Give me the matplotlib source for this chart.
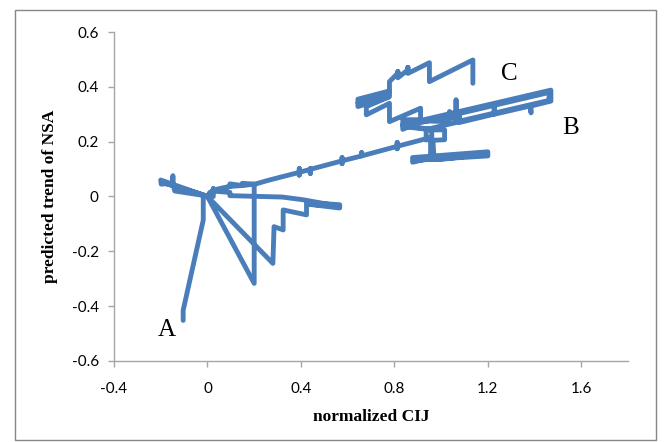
import matplotlib
matplotlib.use('Agg')
import matplotlib.pyplot as plt
from matplotlib.patches import Rectangle

# trajectory (normalized CIJ, predicted trend of NSA)
cij = [-0.104, -0.104, -0.018, -0.018, 0.000,
       -0.200, -0.198, -0.150, -0.148, -0.146, -0.140, -0.003, -0.195, 0.000,
       0.200, 0.200, 0.150, 0.100, 0.010, 0.000,
       0.280, 0.285, 0.324, 0.324, 0.424, 0.424, 0.566, 0.566, 0.430, 0.566,
       0.410, 0.320, 0.096, 0.096, 0.020, 0.000,
       0.025, 0.025, 0.027, 0.096, 0.096, 0.149, 0.149, 0.203, 0.256, 0.310,
       0.393, 0.393, 0.393, 0.393, 0.440, 0.440, 0.440, 0.440,
       0.576, 0.576, 0.576, 0.576, 0.660, 0.660, 0.660,
       0.812, 0.812, 0.812, 0.812, 0.910, 0.955,
       0.955, 0.878, 0.878, 1.200, 1.200, 0.890, 1.195, 1.000, 0.970, 0.965,
       1.015, 1.015, 0.936, 0.936, 0.960,
       0.960, 0.836, 0.836, 1.470, 1.470, 1.385, 1.385, 1.380, 1.228, 1.228,
       1.225, 1.079, 1.079, 1.075, 0.940, 0.840, 1.465, 1.460,
       1.064, 1.064, 1.064, 1.036, 1.036, 0.920,
       0.836, 0.836, 0.912, 0.912, 0.779,
       0.779, 0.680, 0.680, 0.779, 0.644, 0.644, 0.779, 0.779, 0.644, 0.779,
       0.779, 0.815, 0.815, 0.815, 0.858, 0.858, 0.858, 0.950, 0.950, 1.136,
       1.136]
nsa = [-0.452, -0.415, -0.086, 0.000, 0.000,
       0.060, 0.045, 0.048, 0.076, 0.040, 0.020, 0.002, 0.052, 0.000,
       -0.317, 0.045, 0.040, 0.037, 0.015, 0.000,
       -0.244, -0.110, -0.122, -0.049, -0.067, -0.022, -0.030, -0.042, -0.028, -0.036,
       -0.012, -0.002, 0.003, 0.015, 0.020, 0.000,
       0.000, 0.030, 0.024, 0.037, 0.046, 0.040, 0.048, 0.045, 0.058, 0.070,
       0.088, 0.102, 0.078, 0.088, 0.099, 0.084, 0.102, 0.099,
       0.130, 0.142, 0.120, 0.130, 0.148, 0.160, 0.148,
       0.183, 0.197, 0.174, 0.183, 0.205, 0.215,
       0.140, 0.125, 0.142, 0.163, 0.148, 0.132, 0.156, 0.135, 0.135, 0.205,
       0.207, 0.243, 0.243, 0.206, 0.210,
       0.245, 0.258, 0.262, 0.388, 0.348, 0.330, 0.305, 0.330, 0.300, 0.326,
       0.300, 0.270, 0.300, 0.272, 0.245, 0.255, 0.380, 0.350,
       0.272, 0.352, 0.273, 0.310, 0.273, 0.276,
       0.245, 0.280, 0.280, 0.322, 0.273,
       0.340, 0.298, 0.328, 0.364, 0.328, 0.355, 0.385, 0.372, 0.342, 0.383,
       0.419, 0.450, 0.456, 0.433, 0.462, 0.471, 0.449, 0.488, 0.419, 0.498,
       0.413]

point_labels = ['A', 'B', 'C']
label_x = [-0.173, 1.553, 1.292]
label_y = [-0.487, 0.250, 0.447]

plt.rcParams['axes.unicode_minus'] = False

fig = plt.figure(figsize=(6.64, 4.42), dpi=100)
ax = fig.add_axes([0.1717, 0.1833, 0.7741, 0.7443])

ax.plot(cij, nsa, color='#4A7EBB', lw=3.5, solid_joinstyle='round',
        solid_capstyle='round')

for lab, lx, ly in zip(point_labels, label_x, label_y):
    ax.text(lx, ly, lab, fontsize=18, family='Liberation Serif',
            ha='center', va='center')

ax.set_xlim(-0.4, 1.8)
ax.set_ylim(-0.6, 0.6)
ax.set_xticks([-0.4, 0, 0.4, 0.8, 1.2, 1.6])
ax.set_xticklabels(['-0.4', '0', '0.4', '0.8', '1.2', '1.6'])
ax.set_yticks([-0.6, -0.4, -0.2, 0, 0.2, 0.4, 0.6])
ax.set_yticklabels(['-0.6', '-0.4', '-0.2', '0', '0.2', '0.4', '0.6'])

for s in ['top', 'right']:
    ax.spines[s].set_visible(False)
for s in ['left', 'bottom']:
    ax.spines[s].set_color('#A6A6A6')
    ax.spines[s].set_linewidth(1.0)
ax.tick_params(axis='both', direction='out', length=4, width=1,
               color='#A6A6A6', labelsize=11)
ax.tick_params(axis='x', pad=11)
ax.tick_params(axis='y', pad=7)
for t in ax.get_xticklabels() + ax.get_yticklabels():
    t.set_family('Lato')

ax.set_xlabel('normalized CIJ', fontsize=12.5, fontweight='bold',
              family='Liberation Serif', va='center')
ax.xaxis.set_label_coords(0.5, -0.169)
ax.set_ylabel('predicted trend of NSA', fontsize=12.5, fontweight='bold',
              family='Liberation Serif', va='center')
ax.yaxis.set_label_coords(-0.1245, 0.5)

fig.patches.append(Rectangle((0.0226, 0.0045), 0.9654, 0.9725,
                             transform=fig.transFigure, fill=False,
                             edgecolor='#868686', lw=1.0))

fig.savefig('out.png', dpi=100)
